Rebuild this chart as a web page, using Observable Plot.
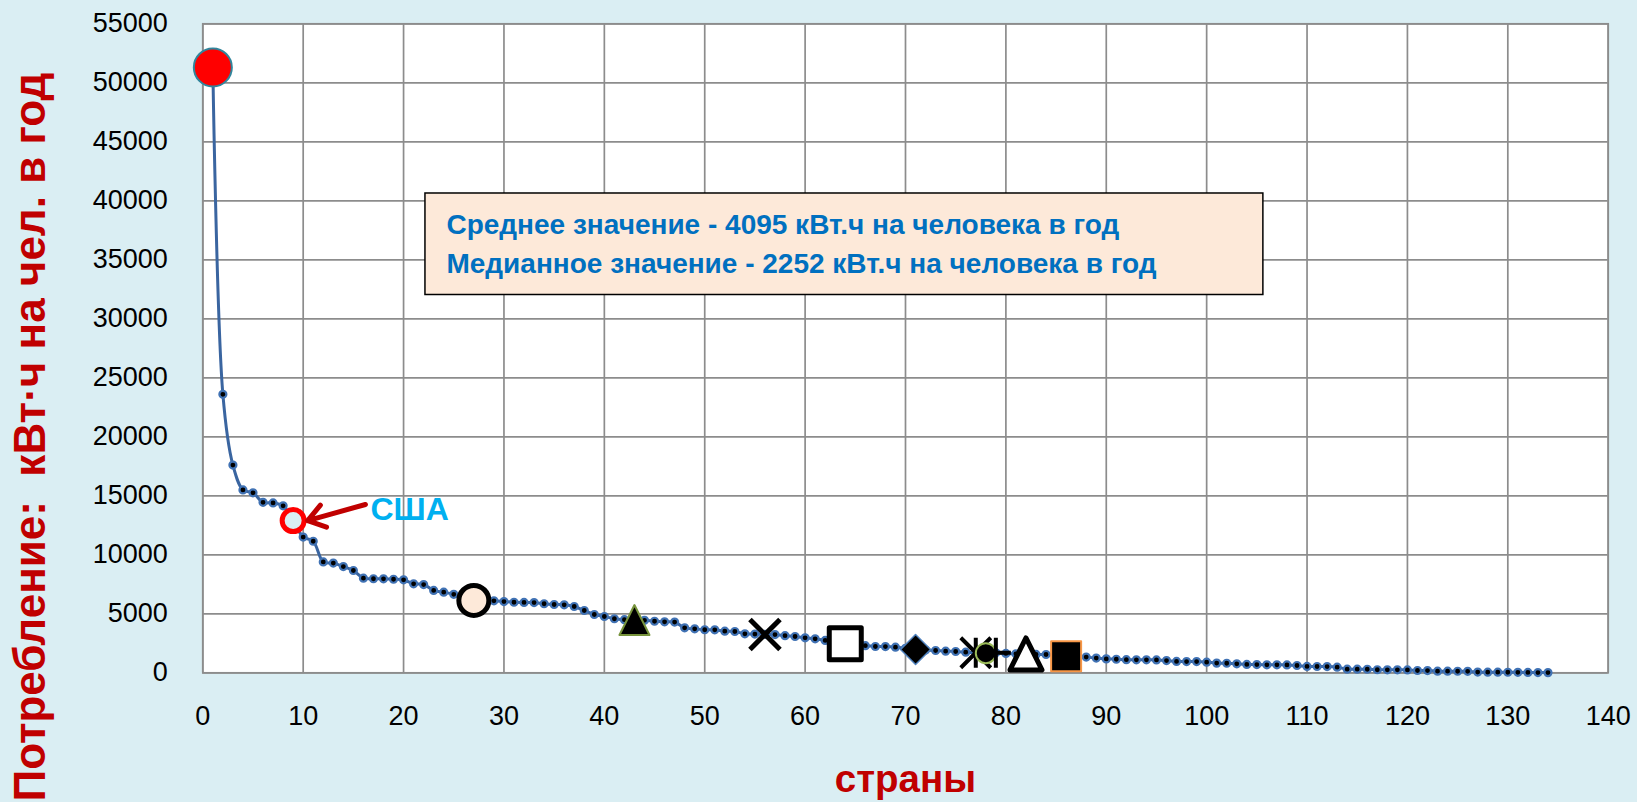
<!DOCTYPE html>
<html>
<head>
<meta charset="utf-8">
<script src="https://cdn.jsdelivr.net/npm/d3@7"></script>
<script src="https://cdn.jsdelivr.net/npm/@observablehq/plot@0.6"></script>
<style>
  html, body { margin: 0; padding: 0; background: #daeef3; overflow: hidden; }
  #chart svg { display: block; }
</style>
</head>
<body>
<div id="chart"></div>
<script>
// ---- data ----
const consumption = [
  51300, 23600, 17600, 15500, 15250, 14450, 14400, 14150, 12900, 11500,
  11150, 9400, 9300, 9000, 8670, 8020, 7970, 7960, 7930, 7880,
  7540, 7480, 6980, 6830, 6650, 6400, 6130, 6130, 6100, 6040,
  5980, 5960, 5950, 5850, 5790, 5760, 5620, 5280, 4940, 4770,
  4580, 4500, 4470, 4450, 4370, 4320, 4300, 3810, 3730, 3650,
  3640, 3530, 3500, 3300, 3280, 3250, 3240, 3150, 3076, 2966,
  2880, 2740, 2590, 2460, 2310, 2300, 2230, 2220, 2170, 2080,
  1975, 1930, 1890, 1830, 1805, 1750, 1700, 1660, 1690, 1640,
  1610, 1600, 1560, 1550, 1480, 1410, 1390, 1330, 1250, 1180,
  1150, 1110, 1100, 1100, 1095, 1040, 960, 955, 950, 900,
  820, 810, 760, 710, 700, 680, 675, 670, 620, 540,
  535, 530, 475, 310, 305, 300, 260, 255, 250, 245,
  195, 190, 140, 135, 130, 125, 60, 55, 50, 45,
  40, 35, 20, 15
];
const xTicks = [0, 10, 20, 30, 40, 50, 60, 70, 80, 90, 100, 110, 120, 130, 140];
const yTicks = [0, 5000, 10000, 15000, 20000, 25000, 30000, 35000, 40000, 45000, 50000, 55000];
const highlightRanks = [1, 9, 27, 43, 56, 64, 71, 77, 78, 79, 82, 86];
const usaLabel = "США";
const statLines = [
  "Среднее значение - 4095 кВт.ч на человека в год",
  "Медианное значение - 2252 кВт.ч на человека в год"
];
const xTitle = "страны";
const yTitle = "Потребление:\u00A0 кВт·ч на чел. в год";

// ---- marker shapes (Excel-like) ----
const sym = (fn) => ({ draw(ctx, size) { const r = Math.sqrt(size / Math.PI); fn(ctx, r); } });
const SYM = {
  circle: sym((c, r) => { c.moveTo(r, 0); c.arc(0, 0, r, 0, 2 * Math.PI); c.closePath(); }),
  square: sym((c, r) => { c.moveTo(-r, -r); c.lineTo(r, -r); c.lineTo(r, r); c.lineTo(-r, r); c.closePath(); }),
  triangle: sym((c, r) => { c.moveTo(0, -r); c.lineTo(r, r); c.lineTo(-r, r); c.closePath(); }),
  diamond: sym((c, r) => { c.moveTo(0, -r); c.lineTo(r, 0); c.lineTo(0, r); c.lineTo(-r, 0); c.closePath(); }),
  times: sym((c, r) => { c.moveTo(-r, -r); c.lineTo(r, r); c.moveTo(-r, r); c.lineTo(r, -r); }),
  star: sym((c, r) => { c.moveTo(-r, -r); c.lineTo(r, r); c.moveTo(-r, r); c.lineTo(r, -r); c.moveTo(0, -r); c.lineTo(0, r); }),
  plus: sym((c, r) => { c.moveTo(-r, 0); c.lineTo(r, 0); c.moveTo(0, -r); c.lineTo(0, r); })
};
const markerStyles = [
  { symbol: SYM.circle,   r: 19, fill: "#ff0000", stroke: "#31859c", strokeWidth: 2 },
  { symbol: SYM.circle,   r: 11, fill: "#daeef3", stroke: "#ff0000", strokeWidth: 5 },
  { symbol: SYM.circle,   r: 15, fill: "#fde9d9", stroke: "#000000", strokeWidth: 5 },
  { symbol: SYM.triangle, r: 15, fill: "#000000", stroke: "#77933c", strokeWidth: 2 },
  { symbol: SYM.times,    r: 15, fill: "none",    stroke: "#000000", strokeWidth: 5 },
  { symbol: SYM.square,   r: 16, fill: "#ffffff", stroke: "#000000", strokeWidth: 5 },
  { symbol: SYM.diamond,  r: 15, fill: "#000000", stroke: "#4f81bd", strokeWidth: 1.5 },
  { symbol: SYM.star,     r: 15, fill: "none",    stroke: "#000000", strokeWidth: 4 },
  { symbol: SYM.circle,   r: 10, fill: "#000000", stroke: "#9bbb59", strokeWidth: 2 },
  { symbol: SYM.plus,     r: 15, fill: "none",    stroke: "#000000", strokeWidth: 4 },
  { symbol: SYM.triangle, r: 16, fill: "#ffffff", stroke: "#000000", strokeWidth: 5 },
  { symbol: SYM.square,   r: 15, fill: "#000000", stroke: "#f79646", strokeWidth: 2 }
];

const points = consumption.map((v, i) => ({ rank: i + 1, value: v }));
const highlights = highlightRanks.map((rk) => points[rk - 1]);

// ---- annotation layout (data units) ----
const box = { x1: 22.18, x2: 105.65, y1: 32017, y2: 40619 };
const statPos = { x: 24.27, y: [37949, 34602] };
const usaText = { x: 16.7, y: 13839 };
const usaArrow = { x1: 16.2, y1: 14263, x2: 10.45, y2: 12900 };

const FONT = "'Liberation Sans', Arial, sans-serif";
const GRID = "#8c8c8c";

const marks = [
  Plot.frame({ fill: "white" }),
  Plot.gridX(xTicks, { stroke: GRID, strokeOpacity: 1, strokeWidth: 1.7 }),
  Plot.gridY(yTicks, { stroke: GRID, strokeOpacity: 1, strokeWidth: 1.7 }),
  Plot.frame({ stroke: GRID, strokeWidth: 1.7 }),
  Plot.axisX(xTicks, { tickSize: 0, tickPadding: 33, fontSize: 27, fontFamily: FONT, label: null, fill: "#000" }),
  Plot.axisY(yTicks, { tickSize: 0, tickPadding: 35, fontSize: 27, fontFamily: FONT, label: null, fill: "#000", tickFormat: (d) => String(d) }),
  Plot.line(points, { x: "rank", y: "value", stroke: "#3a65a0", strokeWidth: 3, curve: "catmull-rom" }),
  Plot.dot(points, { x: "rank", y: "value", r: 3.5, fill: "#000", stroke: "#4072b4", strokeWidth: 2.2 }),
  ...highlights.map((p, i) => Plot.dot([p], {
    x: "rank", y: "value",
    symbol: markerStyles[i].symbol, r: markerStyles[i].r,
    fill: markerStyles[i].fill, stroke: markerStyles[i].stroke,
    strokeWidth: markerStyles[i].strokeWidth, strokeLinejoin: "round"
  })),
  Plot.arrow([usaArrow], { x1: "x1", y1: "y1", x2: "x2", y2: "y2", stroke: "#c00000", strokeWidth: 5, headLength: 10, headAngle: 70 }),
  Plot.text([usaLabel], { x: usaText.x, y: usaText.y, text: (d) => d, textAnchor: "start", lineAnchor: "middle",
    fontSize: 32, fontWeight: "bold", fontFamily: FONT, fill: "#00b0f0", ariaLabel: "usa-label" }),
  Plot.rect([box], { x1: "x1", x2: "x2", y1: "y1", y2: "y2", fill: "#fde9d9", stroke: "#000", strokeWidth: 1.5 }),
  Plot.text(statLines, { x: statPos.x, y: (d, i) => statPos.y[i], text: (d) => d, textAnchor: "start", lineAnchor: "middle",
    fontSize: 28, fontWeight: "bold", fontFamily: FONT, fill: "#0070c0", ariaLabel: "stat-lines" }),
  Plot.text([xTitle], { frameAnchor: "bottom", dy: 107, text: (d) => d, lineAnchor: "middle",
    fontSize: 38.5, fontWeight: "bold", fontFamily: FONT, fill: "#c00000", ariaLabel: "x-title" }),
  Plot.text([yTitle], { frameAnchor: "top-left", dx: -171.7, dy: 48.7, rotate: -90, text: (d) => d, textAnchor: "end", lineAnchor: "middle",
    fontSize: 44, fontWeight: "bold", fontFamily: FONT, fill: "#c00000", ariaLabel: "y-title" })
];

const chart = Plot.plot({
  width: 1637,
  height: 802,
  marginLeft: 202.3,
  marginRight: 29.3,
  marginTop: 23.3,
  marginBottom: 129.7,
  x: { domain: [0, 140], ticks: xTicks },
  y: { domain: [0, 55000], ticks: yTicks },
  style: { background: "#daeef3", fontFamily: FONT, color: "#000", overflow: "hidden" },
  marks
});
document.getElementById("chart").appendChild(chart);

// fit annotation texts to the widths of the reference (Calibri-like narrow text)
const fit = (el, len) => { if (el) { el.setAttribute("textLength", len); el.setAttribute("lengthAdjust", "spacingAndGlyphs"); } };
const statWidths = [675, 720];
chart.querySelectorAll('g[aria-label="stat-lines"] text').forEach((t, i) => fit(t, statWidths[i]));
fit(chart.querySelector('g[aria-label="usa-label"] text'), 73);
fit(chart.querySelector('g[aria-label="x-title"] text'), 144);
// keep the whole vertical title inside the picture, ending where the reference ends
fit(chart.querySelector('g[aria-label="y-title"] text'), 722);
</script>
</body>
</html>
